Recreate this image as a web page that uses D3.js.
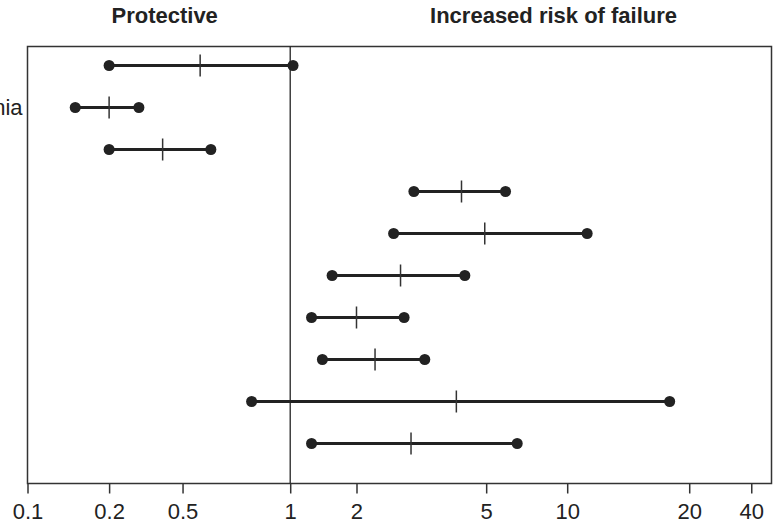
<!DOCTYPE html>
<meta charset="utf-8">
<body style="margin:0;background:#fff">
<style>
  text { font-family: "Liberation Sans", Arial, sans-serif; fill: #222; }
  .head { font-size: 22px; font-weight: bold; }
  .tick text { font-size: 22px; }
  .ci { stroke: #222; stroke-width: 3px; }
  .est { stroke: #333; stroke-width: 1.5px; }
  .dot { fill: #222; }
</style>
<script src="https://d3js.org/d3.v7.min.js"></script>
<script>
  // rows top to bottom (only the end of one label is visible in the picture)
  var rowLabels = ["", "nia", "", "", "", "", "", "", "", ""];
  var lower = [0.2, 0.15, 0.2, 3.0, 2.6, 1.55, 1.25, 1.4, 0.78, 1.25];
  var estimate = [0.56, 0.2, 0.39, 4.2, 4.95, 2.73, 2.0, 2.28, 4.05, 2.94];
  var upper = [1.03, 0.29, 0.6, 5.9, 11.2, 4.3, 2.8, 3.24, 17.9, 6.52];

  var tickVals = [0.1, 0.2, 0.5, 1, 2, 5, 10, 20, 40];
  var xMax = 50;
  // the printed axis is not evenly logarithmic; where each tick sits across the plot
  var tickFrac = [0, 0.1097, 0.2084, 0.3531, 0.4422, 0.6165, 0.7254, 0.8894, 0.9728, 1];

  var headings = [{text: "Protective", at: 0.4}, {text: "Increased risk of failure", at: 8.9}];

  var width = 774, height = 527;
  var m = {left: 27.5, right: 771.5, top: 46.5, bottom: 483.5};

  var data = lower.map(function(d, i) {
    return {label: rowLabels[i], lo: d, est: estimate[i], hi: upper[i], i: i};
  });

  var x = d3.scaleLog()
    .domain(tickVals.concat([xMax]))
    .range(tickFrac.map(function(f) { return m.left + f * (m.right - m.left); }));

  var y = d3.scalePoint()
    .domain(d3.range(data.length))
    .range([m.top + 19, m.bottom - 40]);

  var svg = d3.select("body").append("svg")
    .attr("width", width)
    .attr("height", height);

  // frame
  svg.append("rect")
    .attr("x", m.left).attr("y", m.top)
    .attr("width", m.right - m.left).attr("height", m.bottom - m.top)
    .attr("fill", "none").attr("stroke", "#333").attr("stroke-width", 1.5);

  // line of no effect
  svg.append("line")
    .attr("x1", x(1)).attr("x2", x(1))
    .attr("y1", m.top).attr("y2", m.bottom)
    .attr("stroke", "#222").attr("stroke-width", 1.3);

  var axis = svg.append("g")
    .attr("transform", "translate(0," + m.bottom + ")")
    .call(d3.axisBottom(x).tickValues(tickVals).tickFormat(function(d) { return String(d); })
      .tickSize(10).tickPadding(10));
  axis.select(".domain").remove();
  axis.selectAll(".tick line").attr("stroke", "#333").attr("stroke-width", 1.5);
  axis.selectAll(".tick text").attr("fill", "#222");

  svg.selectAll(".head")
    .data(headings)
    .enter().append("text")
    .attr("class", "head")
    .attr("x", function(d) { return x(d.at); })
    .attr("y", 23)
    .attr("text-anchor", "middle")
    .text(function(d) { return d.text; });

  var row = svg.append("g").selectAll("g")
    .data(data)
    .enter().append("g")
    .attr("transform", function(d) { return "translate(0," + y(d.i) + ")"; });

  row.append("line")
    .attr("class", "ci")
    .attr("x1", function(d) { return x(d.lo); })
    .attr("x2", function(d) { return x(d.hi); });

  row.append("line")
    .attr("class", "est")
    .attr("x1", function(d) { return x(d.est); })
    .attr("x2", function(d) { return x(d.est); })
    .attr("y1", -11).attr("y2", 11);

  row.selectAll("circle")
    .data(function(d) { return [d.lo, d.hi]; })
    .enter().append("circle")
    .attr("class", "dot")
    .attr("cx", function(v) { return x(v); })
    .attr("r", 5.5);

  row.append("text")
    .attr("x", m.left - 5)
    .attr("dy", "0.35em")
    .attr("text-anchor", "end")
    .style("font-size", "22px")
    .text(function(d) { return d.label; });
</script>
</body>
